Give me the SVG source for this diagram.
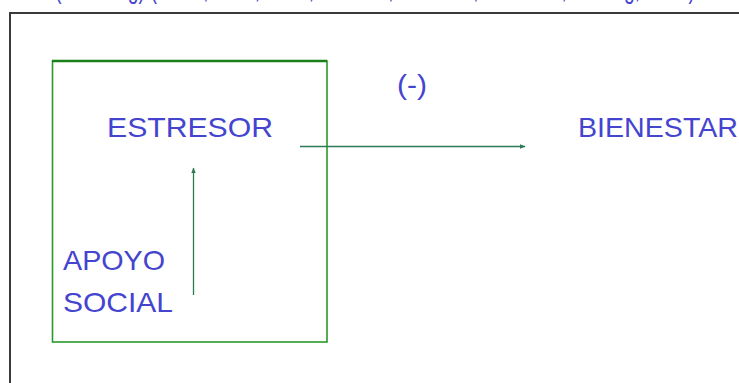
<svg xmlns="http://www.w3.org/2000/svg" width="739" height="383" viewBox="0 0 739 383">
  <style>
    .lbl { font-family: "Liberation Sans", Arial, sans-serif; font-size: 28px; fill: #4444cf; }
    .conn { stroke: #2d7a55; stroke-width: 1.3; fill: none; }
  </style>
  <defs>
    <marker id="arr" viewBox="0 0 10 10" refX="9" refY="5" markerWidth="6" markerHeight="6" markerUnits="userSpaceOnUse" orient="auto">
      <path d="M0,1 L10,5 L0,9 z" fill="#2d7a55"/>
    </marker>
  </defs>
  <rect x="0" y="0" width="739" height="383" fill="#ffffff"/>
  <text class="lbl" x="55" y="-2" textLength="640" lengthAdjust="spacingAndGlyphs">(Buffering) (Cobb, Wills, 1985; Lazarus, Folkman, Berkman, Herzog, 1986)</text>
  <rect id="frame" x="10" y="13" width="740" height="380" fill="none" stroke="#3a3a3a" stroke-width="2"/>
  <g id="box">
    <rect x="52.5" y="61" width="274.5" height="281" fill="none" stroke="#2a9a2a" stroke-width="1.6"/>
    <line x1="52" y1="61" x2="327" y2="61" stroke="#1a801a" stroke-width="2.6"/>
  </g>
  <g id="estresor">
    <text class="lbl" x="107" y="137" textLength="166" lengthAdjust="spacingAndGlyphs">ESTRESOR</text>
  </g>
  <g id="bienestar">
    <text class="lbl" x="578" y="137" textLength="160" lengthAdjust="spacingAndGlyphs">BIENESTAR</text>
  </g>
  <g id="apoyo">
    <text class="lbl" x="63" y="270" textLength="102" lengthAdjust="spacingAndGlyphs">APOYO</text>
    <text class="lbl" x="63" y="312" textLength="110" lengthAdjust="spacingAndGlyphs">SOCIAL</text>
  </g>
  <g id="signo">
    <text class="lbl" x="397" y="94" textLength="30" lengthAdjust="spacingAndGlyphs">(-)</text>
  </g>
  <g id="connectors">
    <line class="conn" x1="300" y1="146.5" x2="525" y2="146.5" marker-end="url(#arr)"/>
    <line class="conn" x1="193.5" y1="295" x2="193.5" y2="168" marker-end="url(#arr)"/>
  </g>
</svg>
